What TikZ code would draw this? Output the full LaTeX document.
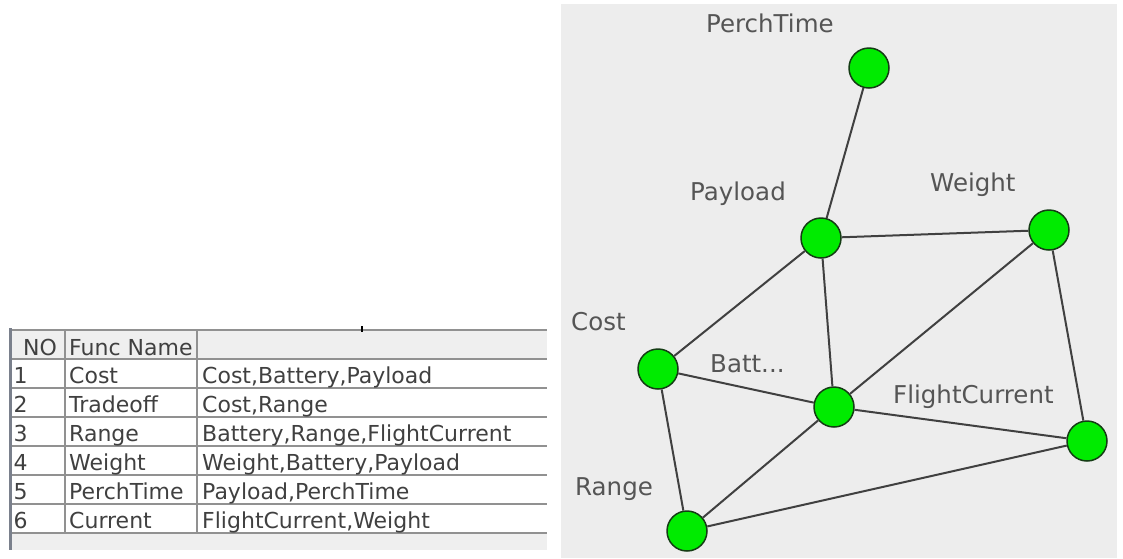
\documentclass[tikz,border=0pt]{standalone}
\usepackage{fontspec}
\setmainfont{DejaVu Sans}
\usetikzlibrary{positioning}

\definecolor{panelgray}{RGB}{237,237,237}
\definecolor{headgray}{RGB}{239,239,239}
\definecolor{gridgray}{RGB}{145,145,145}
\definecolor{framegray}{RGB}{122,128,140}
\definecolor{cellink}{RGB}{64,64,64}
\definecolor{labelink}{RGB}{85,85,85}
\definecolor{vertexgreen}{RGB}{0,235,0}
\definecolor{vertexrim}{RGB}{20,60,20}
\definecolor{edgegray}{RGB}{64,64,64}

\tikzset{
    vertex/.style={circle, fill=vertexgreen, draw=vertexrim, line width=1.5pt, minimum size=40pt, inner sep=0pt},
    link/.style={draw=edgegray, line width=2pt},
    vlabel/.style={anchor=base west, inner sep=0pt, text=labelink, font=\fontsize{24.5}{29}\selectfont},
    cell/.style={anchor=base west, inner sep=0pt, text=cellink, font=\fontsize{22}{26}\selectfont}
}

\begin{document}
\begin{tikzpicture}[x=1pt, y=-1pt]
    \useasboundingbox (0,0) rectangle (1123,558);

    % function table
    \fill[headgray] (10,330) rectangle (547,359);
    \fill[headgray] (10,533) rectangle (547,550);
    \draw[gridgray, line width=1.5pt] (10,330) -- (547,330);
    \foreach \y in {359,388,...,533}
        \draw[gridgray, line width=1.2pt] (10,\y) -- (547,\y);
    \draw[gridgray, line width=1.2pt] (65,330) -- (65,533) (197,330) -- (197,533);
    \draw[framegray, line width=3pt] (10,328) -- (10,550);
    \fill[black] (361,326) rectangle (363,332);

    \node[cell] (hno) at (23,355) {NO};
    \node[cell] (hname) at (69,355) {Func Name};
    \foreach \i/\fn/\vars in {1/Cost/{Cost,Battery,Payload}, 2/Tradeoff/{Cost,Range},
            3/Range/{Battery,Range,FlightCurrent}, 4/Weight/{Weight,Battery,Payload},
            5/PerchTime/{Payload,PerchTime}, 6/Current/{FlightCurrent,Weight}} {
        \node[cell] (no\i) at (13.5,354+29*\i) {\i};
        \node[cell] (fn\i) at (69,354+29*\i) {\fn};
        \node[cell] (vars\i) at (202,354+29*\i) {\vars};
    }

    % dependency graph
    \fill[panelgray] (561,4) rectangle (1117,558);

    \node[vertex] (perch) at (869,68) {};
    \node[vertex] (payload) at (821,238) {};
    \node[vertex] (weight) at (1049,230) {};
    \node[vertex] (cost) at (658,369) {};
    \node[vertex] (batt) at (834,407) {};
    \node[vertex] (flight) at (1087,441) {};
    \node[vertex] (range) at (687,531) {};

    \draw[link] (perch) -- (payload);
    \draw[link] (payload) -- (weight);
    \draw[link] (payload) -- (cost);
    \draw[link] (payload) -- (batt);
    \draw[link] (weight) -- (batt);
    \draw[link] (weight) -- (flight);
    \draw[link] (cost) -- (batt);
    \draw[link] (cost) -- (range);
    \draw[link] (batt) -- (flight);
    \draw[link] (batt) -- (range);
    \draw[link] (range) -- (flight);

    \node[vlabel] (perchlabel) at (706,32) {PerchTime};
    \node[vlabel] (payloadlabel) at (690,200) {Payload};
    \node[vlabel] (weightlabel) at (930,191) {Weight};
    \node[vlabel] (costlabel) at (571,330) {Cost};
    \node[vlabel] (battlabel) at (710,372) {Batt...};
    \node[vlabel] (flightlabel) at (893,403) {FlightCurrent};
    \node[vlabel] (rangelabel) at (575,495) {Range};
\end{tikzpicture}
\end{document}
